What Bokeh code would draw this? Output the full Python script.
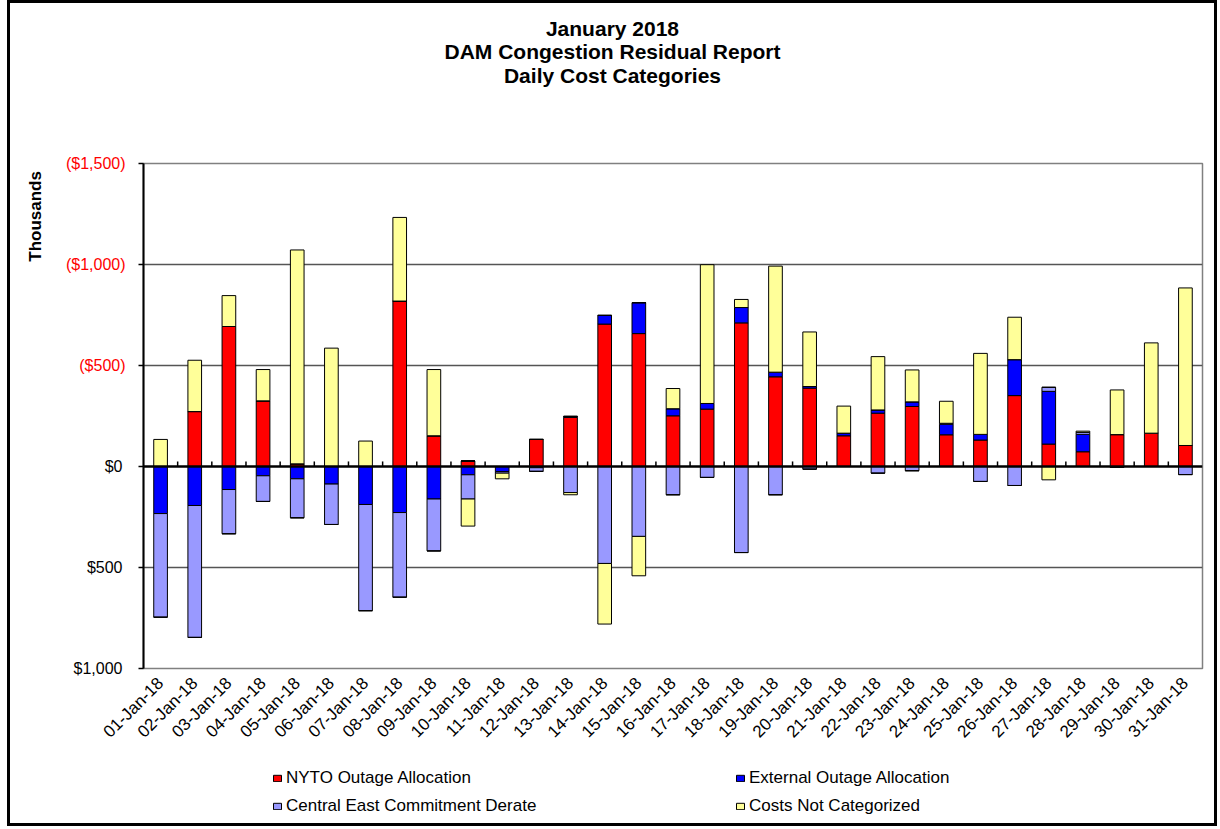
from math import pi
from bokeh.plotting import figure
from bokeh.layouts import column
from bokeh.models import (ColumnDataSource, Range1d, FixedTicker, Span, LinearAxis,
                          Legend, LegendItem)
from bokeh.embed import file_html
from bokeh.resources import INLINE

# ---------------- data (thousands of $, plotted sign: up = cost) ----------------
dates = ["01-Jan-18", "02-Jan-18", "03-Jan-18", "04-Jan-18", "05-Jan-18", "06-Jan-18",
         "07-Jan-18", "08-Jan-18", "09-Jan-18", "10-Jan-18", "11-Jan-18", "12-Jan-18",
         "13-Jan-18", "14-Jan-18", "15-Jan-18", "16-Jan-18", "17-Jan-18", "18-Jan-18",
         "19-Jan-18", "20-Jan-18", "21-Jan-18", "22-Jan-18", "23-Jan-18", "24-Jan-18",
         "25-Jan-18", "26-Jan-18", "27-Jan-18", "28-Jan-18", "29-Jan-18", "30-Jan-18",
         "31-Jan-18"]
nyto = [0, 272, 693, 325, 13, 0, 0, 819, 152, 27,
        0, 134, 243, 705, 658, 251, 284, 711, 444, 388,
        152, 264, 297, 157, 131, 351, 111, 73, 158, 165, 104]
external = [-233, -193, -114, -46, -61, -87, -188, -228, -161, -41,
            -25, -6, 5, 43, 153, 35, 28, 76, 23, 8,
            13, 16, 23, 52, 28, 178, 261, 86, 0, 0, 0]
central_east = [-513, -653, -219, -127, -193, -200, -526, -419, -257, -120,
                -8, -18, -129, -480, -346, -140, -54, -426, -140, -13,
                0, -33, -21, 5, -74, -94, 20, 10, -5, 0, -40]
not_categorized = [134, 254, 153, 155, 1059, 586, 126, 414, 328, -134,
                   -28, 0, -11, -300, -195, 100, 687, 40, 525, 270,
                   134, 264, 158, 109, 401, 210, -66, 6, 221, 447, 780]

series_names = ["NYTO Outage Allocation", "External Outage Allocation",
                "Central East Commitment Derate", "Costs Not Categorized"]
series_keys = ["nyto", "external", "central_east", "not_categorized"]
series_colors = ["#FF0000", "#0000FF", "#9999FF", "#FFFF99"]

y_ticks = [-1000, -500, 0, 500, 1000, 1500]
y_tick_labels = ["$1,000", "$500", "$0", "($500)", "($1,000)", "($1,500)"]

title_lines = ["January 2018", "DAM Congestion Residual Report", "Daily Cost Categories"]
y_title = "Thousands"

# ---------------- build ----------------
FONT = "Liberation Sans"
values = [nyto, external, central_east, not_categorized]
day = list(range(1, len(dates) + 1))
data = {"x": day}
for k, v in zip(series_keys, values):
    data[k + "_pos"] = [max(a, 0) for a in v]
    data[k + "_neg"] = [min(a, 0) for a in v]
source = ColumnDataSource(data)

p = figure(width=1204, height=760,
           x_range=Range1d(0.5, len(dates) + 0.5), y_range=Range1d(-1000, 1500),
           output_backend="svg", toolbar_location=None, tools="",
           min_border_left=133, min_border_right=12, min_border_top=160,
           min_border_bottom=95)
p.background_fill_color = "white"
p.border_fill_color = "white"
p.outline_line_color = "#808080"
p.outline_line_width = 1.5

pos_r = p.vbar_stack([k + "_pos" for k in series_keys], x="x", width=0.4,
                     fill_color=series_colors, line_color="black", line_width=1,
                     source=source)
neg_r = p.vbar_stack([k + "_neg" for k in series_keys], x="x", width=0.4,
                     fill_color=series_colors, line_color="black", line_width=1,
                     source=source)

p.ygrid.ticker = FixedTicker(ticks=[t for t in y_ticks if t != 0])
p.ygrid.grid_line_color = "#555555"
p.ygrid.grid_line_width = 1.3
p.xgrid.grid_line_color = None

# ---- x axis (category labels below the frame)
xa = p.below[0]
xa.ticker = FixedTicker(ticks=day)
xa.major_label_overrides = {d: lab for d, lab in zip(day, dates)}
xa.major_label_orientation = pi / 4
xa.major_label_text_font = FONT
xa.major_label_text_font_size = "17px"
xa.major_label_text_color = "black"
xa.axis_line_color = None
xa.major_tick_line_color = None
xa.minor_tick_line_color = None
xa.major_tick_out = 0
xa.major_label_standoff = 12

# ---- inner y axis: tick marks + red (cost) labels
ya = p.left[0]
ya.ticker = FixedTicker(ticks=y_ticks)
ya.major_label_overrides = {t: (lab if t > 0 else "") for t, lab in zip(y_ticks, y_tick_labels)}
ya.major_label_text_font = FONT
ya.major_label_text_font_size = "16px"
ya.major_label_text_color = "#FF0000"
ya.axis_line_color = "black"
ya.axis_line_width = 2
ya.major_tick_line_color = "black"
ya.major_tick_line_width = 1.5
ya.major_tick_out = 5
ya.major_tick_in = 0
ya.minor_tick_line_color = None
ya.major_label_standoff = 13

# ---- outer y axis: black labels, pulled back under the red ones
yb = LinearAxis(ticker=FixedTicker(ticks=[t for t in y_ticks if t <= 0]),
                major_label_overrides={t: lab for t, lab in zip(y_ticks, y_tick_labels) if t <= 0},
                major_label_text_font=FONT, major_label_text_font_size="16px",
                major_label_text_color="black", axis_line_color=None,
                major_tick_line_color=None, minor_tick_line_color=None,
                major_tick_out=0, major_tick_in=0, major_label_standoff=-60)
p.add_layout(yb, "left")

# ---- y title ("Thousands") near the top of the value axis
y_title_at = 1238
yc = LinearAxis(ticker=FixedTicker(ticks=[y_title_at]),
                major_label_overrides={y_title_at: y_title},
                major_label_orientation="vertical",
                major_label_text_font=FONT, major_label_text_font_size="17px",
                major_label_text_font_style="bold", major_label_text_color="black",
                axis_line_color=None, major_tick_line_color=None,
                minor_tick_line_color=None, major_tick_out=0, major_tick_in=0,
                major_label_standoff=17)
p.add_layout(yc, "left")

# ---- chart title (three centred lines above the frame)
title_at = 14.229
ta = LinearAxis(ticker=FixedTicker(ticks=[title_at]),
                major_label_overrides={title_at: "\n".join(title_lines)},
                major_label_orientation="horizontal",
                major_label_text_font=FONT, major_label_text_font_size="21px",
                major_label_text_font_style="bold", major_label_text_color="black",
                major_label_text_line_height=1.02,
                axis_line_color=None, major_tick_line_color=None,
                minor_tick_line_color=None, major_tick_out=77, major_tick_in=0,
                major_label_standoff=0)
p.add_layout(ta, "above")

# category axis drawn at zero with small tick marks between categories
bounds = [d + 0.5 for d in day[:-1]]
p.segment(x0=bounds, y0=[0] * len(bounds), x1=bounds, y1=[25] * len(bounds),
          line_color="black", line_width=1.5)
p.add_layout(Span(location=0, dimension="width", line_color="black", line_width=2.5))

# ---------------- legend strip (frame aligned with the chart frame) ----------------
q = figure(width=1204, height=60, x_range=Range1d(0, 1), y_range=Range1d(1, 2),
           x_axis_type=None, y_axis_type=None, output_backend="svg",
           toolbar_location=None, tools="", min_border=0)
q.outline_line_color = None
q.background_fill_color = "white"
q.border_fill_color = "white"
keys = []
for c in series_colors:
    # legend keys only: a zero-height bar that sits outside the strip's visible range
    keys.append(q.vbar(x=[0.5], top=[0], width=0.1, fill_color=c, line_color="black",
                       line_width=1))

def make_legend(idx, loc):
    return Legend(items=[LegendItem(label=series_names[i], renderers=[keys[i]]) for i in idx],
                  location=loc, orientation="vertical",
                  label_text_font=FONT, label_text_font_size="17px",
                  label_text_color="black", glyph_width=10, glyph_height=8,
                  label_standoff=4, label_height=20, spacing=8,
                  padding=0, margin=0, border_line_color=None,
                  background_fill_alpha=0)

q.add_layout(make_legend([0, 2], (129, 7)), "center")
q.add_layout(make_legend([1, 3], (592, 7)), "center")

layout = column(p, q, spacing=0, styles={"border": "3px solid black", "margin-left": "7px"})
open("out.html", "w").write(file_html(layout, INLINE))
